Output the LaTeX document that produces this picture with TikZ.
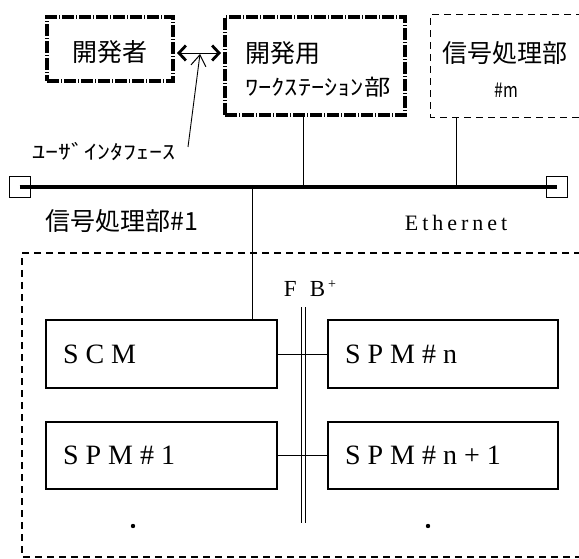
\documentclass[tikz,border=0pt]{standalone}
\usepackage{graphicx}
\usepackage{fontspec}
\setmainfont{Liberation Serif}
\newfontfamily\jp{Noto Sans CJK JP}
\usetikzlibrary{arrows.meta}
\begin{document}
\begin{tikzpicture}[x=1pt,y=-1pt,
  hatch/.style={draw, line width=4.5pt, dash pattern=on 12pt off 5pt, inner sep=0pt,
    postaction={draw, line width=4.5pt, dash pattern=on 1.2pt off 15.8pt, dash phase=2.8pt}},
  dbox/.style={draw, line width=1.1pt, dash pattern=on 7pt off 5pt},
  sbox/.style={draw, line width=1.8pt, inner xsep=17pt, inner ysep=0pt, align=left,
    font=\fontsize{28}{30}\selectfont\addfontfeature{LetterSpace=25}},
  jpbig/.style={inner sep=0pt, font=\jp\fontsize{25}{25}\selectfont},
  thinline/.style={line width=1pt},
  termin/.style={draw, line width=0.9pt, minimum size=21pt, inner sep=0pt},
  dotmark/.style={circle, fill, inner sep=0pt, minimum size=4.4pt}
]
\useasboundingbox (0,0) rectangle (579,559);

% top boxes
\node[hatch, minimum width=126pt, minimum height=64pt] (A) at (110,49) {};
\node[jpbig] (tA) at (110,52) {開発者};

\node[hatch, minimum width=180pt, minimum height=98pt] (B) at (315,66) {};
\node[jpbig, anchor=west] (tB1) at (245,53) {開発用};
\node[inner sep=0pt, anchor=west] (tB2) at (245,87)
  {\scalebox{1.2}[1]{\jp\fontsize{22}{22}\selectfont ﾜｰｸｽﾃｰｼｮﾝ部}};

% signal processing unit #m (its right side runs off the picture)
\node[minimum width=152pt, minimum height=102pt, inner sep=0pt] (M) at (507,66) {};
\draw[dbox] (M.north east) -- (M.north west) -- (M.south west) -- (M.south east);
\node[jpbig] (tM1) at (505,53) {信号処理部};
\node[inner sep=0pt] (tM2) at (506,90) {\scalebox{0.8}[1]{\jp\fontsize{20}{20}\selectfont \#m}};

% user interface arrows
\coordinate (arrL) at (177,53);
\coordinate (arrR) at (221,53);
\draw[line width=0.9pt, {Straight Barb[length=7pt,width=15pt,line width=2.8pt]}-{Straight Barb[length=7pt,width=15pt,line width=2.8pt]}] (arrL) -- (arrR);
\node[inner sep=0pt] (ui) at (104,152)
  {\scalebox{1.3}[1]{\jp\fontsize{20}{20}\selectfont ﾕｰｻﾞｲﾝﾀﾌｪｰｽ}};
\coordinate (uitip) at (188,147);
\coordinate (ptr) at (200,54);
\draw[line width=0.9pt, -{Straight Barb[length=11pt,width=15pt,line width=1pt]}] (uitip) -- (ptr);

% Ethernet bus
\node[termin] (tL) at (19.5,187) {};
\node[termin] (tR) at (557,187) {};
\draw[line width=3.5pt] (tL.center) -- (tR.center);
\coordinate (j1) at (303,187);
\coordinate (j2) at (456,187);
\coordinate (j3) at (252,187);
\draw[thinline] (B.south -| j1) -- (j1);
\draw[thinline] (M.south -| j2) -- (j2);

\node[jpbig] (t1) at (122,221) {信号処理部\#1};
\node[inner sep=0pt, font=\fontsize{22}{22}\selectfont\addfontfeature{LetterSpace=18}] (eth) at (456,223) {Ethernet};

% signal processing unit #1 (right side runs off the picture)
\coordinate (P1ne) at (581,253);
\coordinate (P1nw) at (22,253);
\coordinate (P1sw) at (22,557);
\coordinate (P1se) at (581,557);
\draw[dbox] (P1ne) -- (P1nw) -- (P1sw) -- (P1se);

\node[sbox, minimum height=68pt, text width=197pt] (SCM) at (161.5,354) {SCM};
\node[sbox, minimum height=68pt, text width=196pt] (SPMn) at (443,354) {SPM\#n};
\node[sbox, minimum height=67pt, text width=197pt] (SPM1) at (161.5,455.5) {SPM\#1};
\node[sbox, minimum height=67pt, text width=196pt] (SPMn1) at (443,455.5) {SPM\#n+1};

\draw[thinline] (j3) -- (j3 |- SCM.north);

\node[inner sep=0pt, font=\fontsize{23}{23}\selectfont] (fb) at (310,289)
  {F\hspace{13pt}B\hspace{3pt}\raisebox{8pt}{\fontsize{14}{14}\selectfont +}};
\coordinate (fbL1) at (301,307);
\coordinate (fbL2) at (301,523);
\coordinate (fbR1) at (305,307);
\coordinate (fbR2) at (305,523);
\draw[line width=0.8pt] (fbL1) -- (fbL2);
\draw[line width=0.8pt] (fbR1) -- (fbR2);

\draw[thinline] (SCM.east) -- (SPMn.west);
\draw[thinline] (SPM1.east) -- (SPMn1.west);

\node[dotmark] (d1) at (133,526) {};
\node[dotmark] (d2) at (428,526) {};
\end{tikzpicture}
\end{document}
